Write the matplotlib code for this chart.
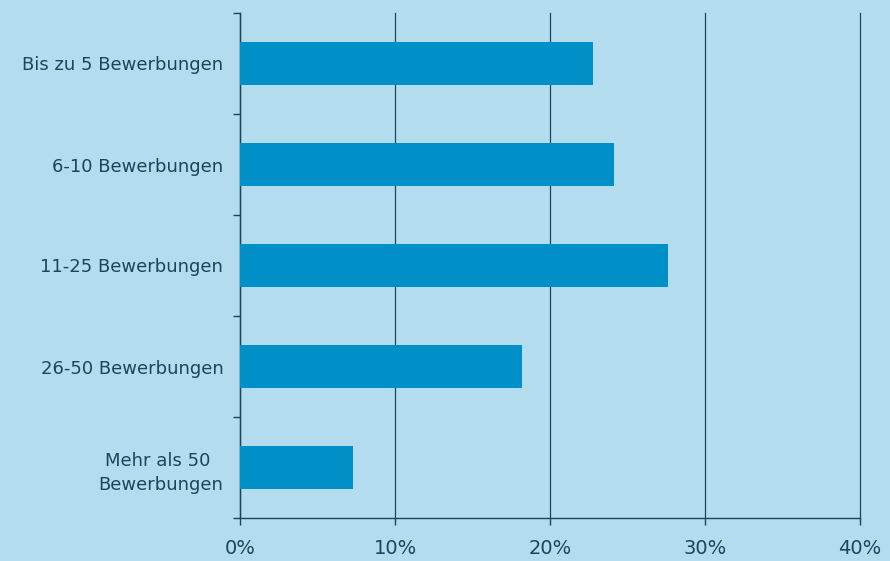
import numpy as np
import matplotlib.pyplot as plt
from matplotlib.ticker import FixedLocator, PercentFormatter

categories = ["Bis zu 5 Bewerbungen", "6-10 Bewerbungen", "11-25 Bewerbungen",
              "26-50 Bewerbungen", "Mehr als 50 \nBewerbungen"]
values = [22.8, 24.1, 27.6, 18.2, 7.3]

bg = "#b3ddef"
bar_color = "#0090c8"
dark = "#1a4658"

fig = plt.figure(figsize=(8.9, 5.61), dpi=100, facecolor=bg)
ax = fig.add_axes([240 / 890, 1 - 518 / 561, 620 / 890, 505 / 561])
ax.set_facecolor(bg)

y = np.arange(len(categories))
ax.barh(y, values, height=0.42, color=bar_color, zorder=3)

ax.set_xlim(0, 40)
ax.set_ylim(len(categories) - 0.5, -0.5)
ax.set_xticks([0, 10, 20, 30, 40])
ax.xaxis.set_major_formatter(PercentFormatter(decimals=0))
ax.set_yticks(y)
ax.set_yticklabels(categories)
ax.yaxis.set_minor_locator(FixedLocator(np.arange(-0.5, len(categories), 1.0)))

ax.grid(axis="x", color=dark, linewidth=0.9, zorder=1)
for line in ax.get_xgridlines():
    line.set_clip_on(False)
for side in ["top", "right"]:
    ax.spines[side].set_visible(False)
for side in ["left", "bottom"]:
    ax.spines[side].set_color(dark)
    ax.spines[side].set_linewidth(1.0)

ax.tick_params(axis="y", which="major", length=0, pad=12, labelsize=13, labelcolor=dark)
ax.tick_params(axis="y", which="minor", length=5, color=dark, width=1)
ax.tick_params(axis="x", which="major", length=5, color=dark, width=1, pad=10,
               labelsize=14, labelcolor=dark)
for lbl in ax.get_yticklabels():
    lbl.set_horizontalalignment("right")
    lbl.set_multialignment("center")
    lbl.set_linespacing(1.45)

fig.savefig("out.png", dpi=100, facecolor=bg)
